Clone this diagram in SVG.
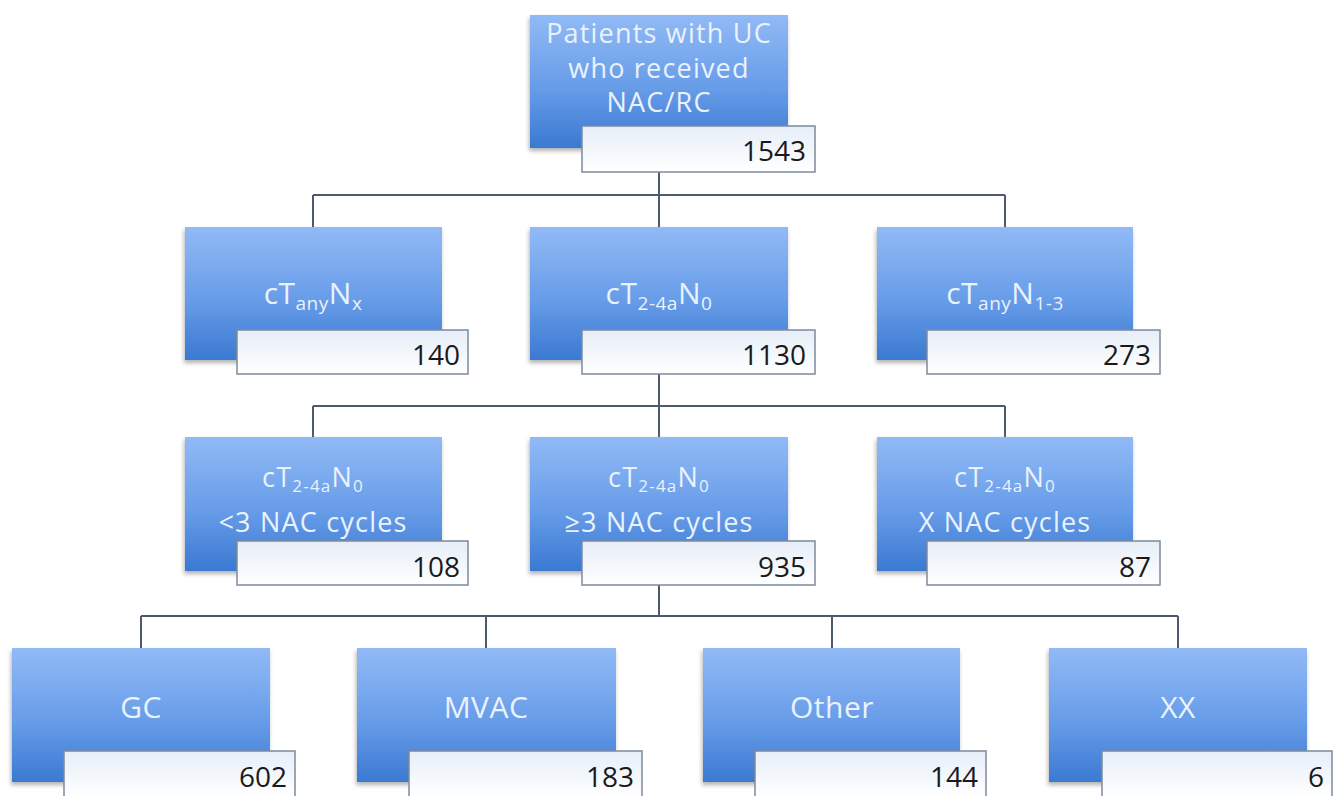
<svg xmlns="http://www.w3.org/2000/svg" width="1344" height="796" viewBox="0 0 1344 796">
<defs>
  <linearGradient id="gBlue" x1="0" y1="0" x2="0" y2="1">
    <stop offset="0" stop-color="#91baf6"/>
    <stop offset="0.55" stop-color="#679ce8"/>
    <stop offset="1" stop-color="#3b79d2"/>
  </linearGradient>
  <linearGradient id="gNum" x1="0" y1="0" x2="0" y2="1">
    <stop offset="0" stop-color="#e6eef8"/>
    <stop offset="1" stop-color="#ffffff"/>
  </linearGradient>
  <filter id="sh" x="-10%" y="-10%" width="120%" height="125%">
    <feDropShadow dx="-1" dy="3" stdDeviation="2" flood-color="#000" flood-opacity="0.3"/>
  </filter>
</defs>
<style>
  .box { fill: url(#gBlue); filter: url(#sh); }
  .num { fill: url(#gNum); stroke: #7d8a9c; stroke-width: 1.5; }
  .lbl { font-family: "Open Sans", "Liberation Sans", sans-serif; fill: #eaf2fd; text-anchor: middle; }
  .l1 { font-size: 27px; letter-spacing: 1.2px; }
  .l2 { font-size: 30px; letter-spacing: 0.5px; }
  .l4 { font-size: 30px; letter-spacing: 0.5px; }
  .sub2 { font-size: 19px; }
  .sub3 { font-size: 17px; }
  .n { font-family: "Open Sans", "Liberation Sans", sans-serif; font-size: 28px; fill: #1a1a1a; text-anchor: end; }
  .conn { stroke: #4e5b6e; stroke-width: 2; fill: none; }
</style>
<rect width="1344" height="796" fill="#ffffff"/>

<g id="connectors">
  <path class="conn" d="M659 172 V227 M313 195 H1005 M313 195 V227 M1005 195 V227"/>
  <path class="conn" d="M659 374 V437 M313 406 H1005 M313 406 V437 M1005 406 V437"/>
  <path class="conn" d="M659 585 V616 M141 616 H1178 M141 616 V648 M486 616 V648 M832 616 V648 M1178 616 V648"/>
</g>

<g id="n-root">
  <rect class="box" x="530" y="15" width="258" height="133"/>
  <text class="lbl l1" x="659" y="43">Patients with UC</text>
  <text class="lbl l1" x="659" y="78">who received</text>
  <text class="lbl l1" x="659" y="112">NAC/RC</text>
  <rect class="num" x="582" y="126" width="233" height="46"/>
  <text class="n" x="806" y="161">1543</text>
</g>

<g id="n-anyNx">
  <rect class="box" x="185" y="227" width="257" height="133"/>
  <text class="lbl l2" x="313" y="304">cT<tspan class="sub2" dy="6">any</tspan><tspan dy="-6">N</tspan><tspan class="sub2" dy="6">x</tspan></text>
  <rect class="num" x="237" y="330" width="231" height="44"/>
  <text class="n" x="460" y="365">140</text>
</g>

<g id="n-24aN0">
  <rect class="box" x="530" y="227" width="258" height="133"/>
  <text class="lbl l2" x="659" y="304">cT<tspan class="sub2" dy="6">2-4a</tspan><tspan dy="-6">N</tspan><tspan class="sub2" dy="6">0</tspan></text>
  <rect class="num" x="582" y="330" width="233" height="44"/>
  <text class="n" x="806" y="365">1130</text>
</g>

<g id="n-anyN13">
  <rect class="box" x="877" y="227" width="256" height="133"/>
  <text class="lbl l2" x="1005" y="304">cT<tspan class="sub2" dy="6">any</tspan><tspan dy="-6">N</tspan><tspan class="sub2" dy="6">1-3</tspan></text>
  <rect class="num" x="927" y="330" width="233" height="44"/>
  <text class="n" x="1151" y="365">273</text>
</g>

<g id="n-lt3">
  <rect class="box" x="185" y="437" width="257" height="134"/>
  <text class="lbl l1" x="313" y="487">cT<tspan class="sub3" dy="5">2-4a</tspan><tspan dy="-5">N</tspan><tspan class="sub3" dy="5">0</tspan></text>
  <text class="lbl l1" x="313" y="532">&lt;3 NAC cycles</text>
  <rect class="num" x="237" y="541" width="231" height="44"/>
  <text class="n" x="460" y="577">108</text>
</g>

<g id="n-ge3">
  <rect class="box" x="530" y="437" width="258" height="134"/>
  <text class="lbl l1" x="659" y="487">cT<tspan class="sub3" dy="5">2-4a</tspan><tspan dy="-5">N</tspan><tspan class="sub3" dy="5">0</tspan></text>
  <text class="lbl l1" x="659" y="532">≥3 NAC cycles</text>
  <rect class="num" x="582" y="541" width="233" height="44"/>
  <text class="n" x="806" y="577">935</text>
</g>

<g id="n-x">
  <rect class="box" x="877" y="437" width="256" height="134"/>
  <text class="lbl l1" x="1005" y="487">cT<tspan class="sub3" dy="5">2-4a</tspan><tspan dy="-5">N</tspan><tspan class="sub3" dy="5">0</tspan></text>
  <text class="lbl l1" x="1005" y="532">X NAC cycles</text>
  <rect class="num" x="927" y="541" width="233" height="44"/>
  <text class="n" x="1151" y="577">87</text>
</g>

<g id="n-gc">
  <rect class="box" x="12" y="648" width="258" height="134"/>
  <text class="lbl l4" x="141" y="718">GC</text>
  <rect class="num" x="64" y="751" width="231" height="46"/>
  <text class="n" x="287" y="787">602</text>
</g>

<g id="n-mvac">
  <rect class="box" x="357" y="648" width="259" height="134"/>
  <text class="lbl l4" x="486" y="718">MVAC</text>
  <rect class="num" x="409" y="751" width="233" height="46"/>
  <text class="n" x="634" y="787">183</text>
</g>

<g id="n-other">
  <rect class="box" x="703" y="648" width="257" height="134"/>
  <text class="lbl l4" x="832" y="718">Other</text>
  <rect class="num" x="755" y="751" width="231" height="46"/>
  <text class="n" x="978" y="787">144</text>
</g>

<g id="n-xx">
  <rect class="box" x="1049" y="648" width="258" height="134"/>
  <text class="lbl l4" x="1178" y="718">XX</text>
  <rect class="num" x="1102" y="751" width="230" height="46"/>
  <text class="n" x="1324" y="787">6</text>
</g>
</svg>
